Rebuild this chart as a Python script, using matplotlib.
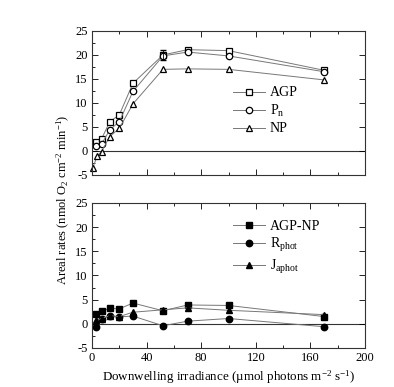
import matplotlib
matplotlib.use("Agg")
import matplotlib.pyplot as plt
from matplotlib.ticker import MultipleLocator

plt.rcParams['font.family'] = ['Liberation Serif', 'DejaVu Serif']
plt.rcParams['mathtext.fontset'] = 'custom'
plt.rcParams['mathtext.rm'] = 'Liberation Serif'
plt.rcParams['mathtext.it'] = 'Liberation Serif'
plt.rcParams['axes.unicode_minus'] = False

# top panel data
x_light = [3, 7, 13, 20, 30, 52, 70, 100, 170]
agp = [1.9, 2.5, 6.1, 7.5, 14.1, 20.0, 21.1, 20.9, 16.8]
pn = [1.1, 1.4, 4.4, 6.1, 12.4, 19.8, 20.6, 19.8, 16.5]
x_np = [0.5, 4, 7, 13, 20, 30, 52, 70, 100, 170]
np_ = [-3.5, -1.0, -0.15, 3.0, 4.7, 9.8, 17.0, 17.1, 17.0, 14.8]

# bottom panel data
x_low = [3, 7, 13, 20, 30, 52, 70, 100, 170]
agp_np = [2.1, 2.6, 3.2, 3.1, 4.3, 2.7, 3.9, 3.8, 1.5]
r_phot = [-0.6, 1.0, 1.6, 1.45, 1.6, -0.4, 0.55, 1.1, -0.6]
j_aphot = [0.7, 1.1, 1.7, 1.5, 2.4, 2.9, 3.3, 2.8, 1.9]

fig = plt.figure(figsize=(3.94, 3.87), dpi=100)
ax1 = fig.add_axes([0.2335, 0.548, 0.693, 0.372])
ax2 = fig.add_axes([0.2335, 0.1008, 0.693, 0.3747])

lc = '#777777'
ms = 4.6
ax1.plot(x_light, agp, color=lc, lw=0.7, marker='s', ms=ms, mfc='white', mec='black', mew=0.9, label='AGP', clip_on=False)
ax1.plot(x_light, pn, color=lc, lw=0.7, marker='o', ms=ms, mfc='white', mec='black', mew=0.9, label='P$_{\\rm n}$', clip_on=False)
ax1.plot(x_np, np_, color=lc, lw=0.7, marker='^', ms=ms, mfc='white', mec='black', mew=0.9, label='NP', clip_on=False)
ax1.errorbar([52], [20.0], yerr=[1.0], fmt='none', ecolor='black', elinewidth=0.6, capsize=2)

ax2.plot(x_low, agp_np, color=lc, lw=0.7, marker='s', ms=ms, mfc='black', mec='black', label='AGP-NP', clip_on=False)
ax2.plot(x_low, r_phot, color=lc, lw=0.7, marker='o', ms=ms, mfc='black', mec='black', label='R$_{\\rm phot}$', clip_on=False)
ax2.plot(x_low, j_aphot, color=lc, lw=0.7, marker='^', ms=ms, mfc='black', mec='black', label='J$_{\\rm aphot}$', clip_on=False)

for ax, top in ((ax1, 0.615), (ax2, 0.885)):
    ax.axhline(0, color='#333333', lw=0.8, zorder=0)
    ax.set_xlim(0, 200)
    ax.set_ylim(-5, 25)
    ax.xaxis.set_major_locator(MultipleLocator(40))
    ax.xaxis.set_minor_locator(MultipleLocator(20))
    ax.yaxis.set_major_locator(MultipleLocator(5))
    ax.yaxis.set_minor_locator(MultipleLocator(2.5))
    ax.tick_params(which='both', direction='in', top=True, right=True, labelsize=9)
    ax.tick_params(which='major', length=4, width=0.6, pad=3)
    ax.tick_params(which='minor', length=2.5, width=0.6, right=False)
    for s in ax.spines.values():
        s.set_linewidth(0.8)
        s.set_color('#333333')
    ax.legend(loc='upper left', bbox_to_anchor=(0.516, top), frameon=False, fontsize=10,
              handlelength=2.3, handletextpad=0.35, labelspacing=0.25, borderaxespad=0,
              borderpad=0)

ax1.tick_params(labelbottom=False)
ax2.set_xlabel('Downwelling irradiance (µmol photons m$^{-2}$ s$^{-1}$)', fontsize=9.4, labelpad=3)
fig.text(0.16, 0.483, 'Areal rates (nmol O$_2$ cm$^{-2}$ min$^{-1}$)', rotation=90,
         ha='center', va='center', fontsize=9)

fig.savefig('out.png', dpi=100)
